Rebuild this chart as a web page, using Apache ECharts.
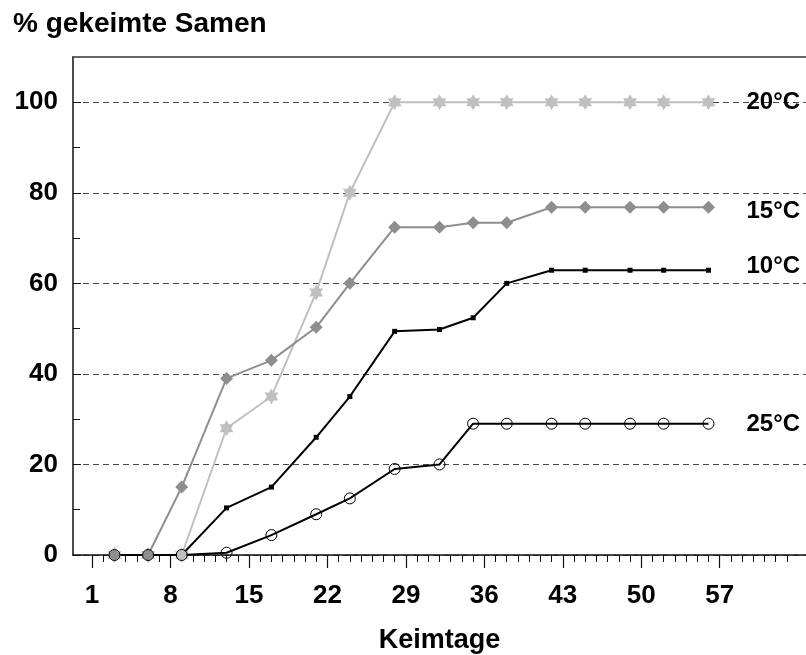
<!DOCTYPE html>
<html>
<head>
<meta charset="utf-8">
<script src="https://cdn.jsdelivr.net/npm/echarts@6/dist/echarts.min.js"></script>
<style>
html,body{margin:0;padding:0;background:#fff;}
#chart{width:806px;height:655px;}
</style>
</head>
<body>
<div id="chart"></div>
<script>
const days = [3, 6, 9, 13, 17, 21, 24, 28, 32, 35, 38, 42, 45, 49, 52, 56];
const temp20 = [0, 0, 0, 28, 35, 58, 80, 100, 100, 100, 100, 100, 100, 100, 100, 100];
const temp15 = [0, 0, 15, 39, 43, 50.3, 60, 72.4, 72.4, 73.4, 73.4, 76.8, 76.8, 76.8, 76.8, 76.8];
const temp10 = [0, 0, 0, 10.4, 15, 26, 35, 49.4, 49.8, 52.4, 60, 62.9, 62.9, 62.9, 62.9, 62.9];
const temp25 = [0, 0, 0, 0.5, 4.4, 9, 12.5, 19, 20, 29, 29, 29, 29, 29, 29, 29];
const xTickLabels = [1, 8, 15, 22, 29, 36, 43, 50, 57];
const xMinorTicks = [2,3,4,5,6,7,9,10,11,12,13,14,16,17,18,19,20,21,23,24,25,26,27,28,30,31,32,33,34,35,37,38,39,40,41,42,44,45,46,47,48,49,51,52,53,54,55,56,58,59,60,61,62,63];
const yTickLabels = [0, 20, 40, 60, 80, 100];
const yMinorTicks = [10, 30, 50, 70, 90];
const seriesNames = ['20°C', '15°C', '10°C', '25°C'];

const FONT = '"Liberation Sans", Arial, sans-serif';
const XMIN = -0.7, XMAX = 64.7;
const pair = arr => days.map((d, i) => [d, arr[i]]);
const star = 'path://M10 0 L12.887 5 L18.66 5 L15.77 10 L18.66 15 L12.887 15 L10 20 L7.113 15 L1.34 15 L4.23 10 L1.34 5 L7.113 5 Z';

function endLbl(text, dy) {
  return {
    show: true, formatter: text, distance: 38, offset: [0, dy],
    fontFamily: FONT, fontWeight: 'bold', fontSize: 24, color: '#000'
  };
}

const chart = echarts.init(document.getElementById('chart'), null, {renderer: 'canvas'});
chart.setOption({
  animation: false,
  backgroundColor: '#fff',
  graphic: [{
    type: 'text', left: 13, top: 10,
    style: {text: '% gekeimte Samen', font: 'bold 28px ' + FONT, fill: '#000'}
  }],
  grid: {left: 73, top: 57, right: 0, bottom: 100, containLabel: false, outerBoundsMode: 'none'},
  xAxis: [{
    type: 'value', min: XMIN, max: XMAX, position: 'bottom',
    name: 'Keimtage', nameLocation: 'middle', nameGap: 72,
    nameTextStyle: {fontFamily: FONT, fontWeight: 'bold', fontSize: 27, color: '#000'},
    axisLine: {show: true, onZero: false, lineStyle: {color: '#111', width: 1.5}},
    axisTick: {show: true, inside: false, length: 13, customValues: xTickLabels, lineStyle: {color: '#111', width: 1.2}},
    axisLabel: {show: true, customValues: xTickLabels, margin: 28, fontFamily: FONT, fontWeight: 'bold', fontSize: 26, color: '#000'},
    splitLine: {show: false}
  }, {
    type: 'value', min: XMIN, max: XMAX, position: 'bottom',
    axisLine: {show: false, onZero: false},
    axisTick: {show: true, inside: false, length: 7, customValues: xMinorTicks, lineStyle: {color: '#111', width: 1}},
    axisLabel: {show: false},
    splitLine: {show: false}
  }, {
    type: 'value', min: XMIN, max: XMAX, position: 'top', z: 10,
    axisLine: {show: true, onZero: false, lineStyle: {color: '#333', width: 1.5}},
    axisTick: {show: false}, axisLabel: {show: false}, splitLine: {show: false}
  }],
  yAxis: [{
    type: 'value', min: 0, max: 110, interval: 20, position: 'left',
    axisLine: {show: true, onZero: false, lineStyle: {color: '#111', width: 1.5}},
    axisTick: {show: true, inside: true, length: 8, customValues: yTickLabels, lineStyle: {color: '#111', width: 1}},
    axisLabel: {show: true, customValues: yTickLabels, margin: 15, fontFamily: FONT, fontWeight: 'bold', fontSize: 26, color: '#000'},
    splitLine: {show: true, lineStyle: {color: '#4a4a4a', width: 1, type: [6, 4]}}
  }, {
    type: 'value', min: 0, max: 110, position: 'left',
    axisLine: {show: false, onZero: false},
    axisTick: {show: true, inside: true, length: 7, customValues: yMinorTicks, lineStyle: {color: '#111', width: 1}},
    axisLabel: {show: false},
    splitLine: {show: false}
  }],
  series: [{
    name: seriesNames[2], type: 'line', data: pair(temp10),
    symbol: 'rect', symbolSize: 5,
    lineStyle: {color: '#000', width: 2},
    itemStyle: {color: '#000'},
    endLabel: endLbl(seriesNames[2], -4)
  }, {
    name: seriesNames[0], type: 'line', data: pair(temp20),
    symbol: star, symbolSize: 16, symbolKeepAspect: true,
    lineStyle: {color: '#c0c0c0', width: 2},
    itemStyle: {color: '#c0c0c0'},
    endLabel: endLbl(seriesNames[0], 0)
  }, {
    name: seriesNames[1], type: 'line', data: pair(temp15),
    symbol: 'diamond', symbolSize: 13,
    lineStyle: {color: '#8e8e8e', width: 2},
    itemStyle: {color: '#8e8e8e'},
    endLabel: endLbl(seriesNames[1], 4)
  }, {
    name: seriesNames[3], type: 'line', data: pair(temp25),
    symbol: 'circle', symbolSize: 11,
    lineStyle: {color: '#000', width: 2},
    itemStyle: {color: 'rgba(0,0,0,0)', borderColor: '#000', borderWidth: 1},
    endLabel: endLbl(seriesNames[3], 1)
  }]
});
</script>
</body>
</html>
